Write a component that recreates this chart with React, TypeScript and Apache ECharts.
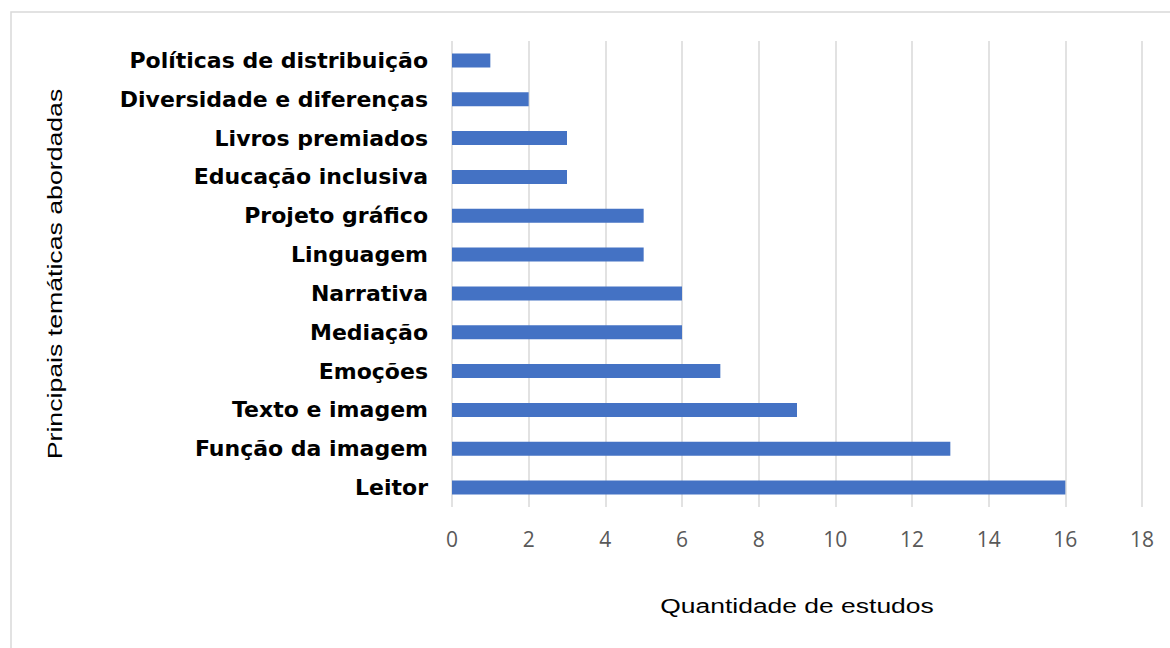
import React, { useEffect, useRef } from "react";
import * as echarts from "echarts";

const categories = [
  "Leitor",
  "Função da imagem",
  "Texto e imagem",
  "Emoções",
  "Mediação",
  "Narrativa",
  "Linguagem",
  "Projeto gráfico",
  "Educação inclusiva",
  "Livros premiados",
  "Diversidade e diferenças",
  "Políticas de distribuição",
];
const values = [16, 13, 9, 7, 6, 6, 5, 5, 3, 3, 2, 1];
const xTitle = "Quantidade de estudos";
const yTitle = "Principais temáticas abordadas";

const FONT = "Liberation Sans, Arial, sans-serif";

export default function App() {
  const ref = useRef<HTMLDivElement>(null);
  useEffect(() => {
    const chart = echarts.init(ref.current!, undefined, { renderer: "svg" });
    chart.setOption({
      animation: false,
      backgroundColor: "#ffffff",
      graphic: [
        {
          type: "rect",
          shape: { x: 11, y: 12, width: 1170, height: 650 },
          style: { fill: "none", stroke: "#d9d9d9", lineWidth: 1.5 },
          silent: true,
        },
        {
          type: "text",
          x: 797,
          y: 606,
          scaleX: 1.26,
          style: {
            text: xTitle,
            fontSize: 21,
            fontFamily: FONT,
            fill: "#000000",
            align: "center",
            verticalAlign: "middle",
          },
        },
        {
          type: "text",
          x: 55,
          y: 274,
          rotation: Math.PI / 2,
          scaleX: 1.27,
          style: {
            text: yTitle,
            fontSize: 21,
            fontFamily: FONT,
            fill: "#000000",
            align: "center",
            verticalAlign: "middle",
          },
        },
      ],
      grid: { left: 452, right: 28, top: 41, bottom: 141, containLabel: false },
      xAxis: {
        type: "value",
        min: 0,
        max: 18,
        interval: 2,
        axisLine: { show: false },
        axisTick: { show: false },
        splitLine: { show: true, lineStyle: { color: "#d9d9d9", width: 1.5 } },
        axisLabel: {
          color: "#595959",
          fontSize: 21,
          fontFamily: "Open Sans, sans-serif",
          margin: 21,
        },
      },
      yAxis: {
        type: "category",
        data: categories,
        axisLine: { show: false },
        axisTick: { show: false },
        axisLabel: {
          color: "#000000",
          fontSize: 22,
          fontWeight: "bold",
          fontFamily: "DejaVu Sans, sans-serif",
          margin: 24,
        },
      },
      series: [
        {
          type: "bar",
          data: values,
          barWidth: 14,
          itemStyle: { color: "#4472C4" },
        },
      ],
    });
    return () => chart.dispose();
  }, []);
  return (
    <div
      ref={ref}
      style={{ position: "absolute", left: 0, top: 0, width: 1170, height: 648 }}
    />
  );
}
